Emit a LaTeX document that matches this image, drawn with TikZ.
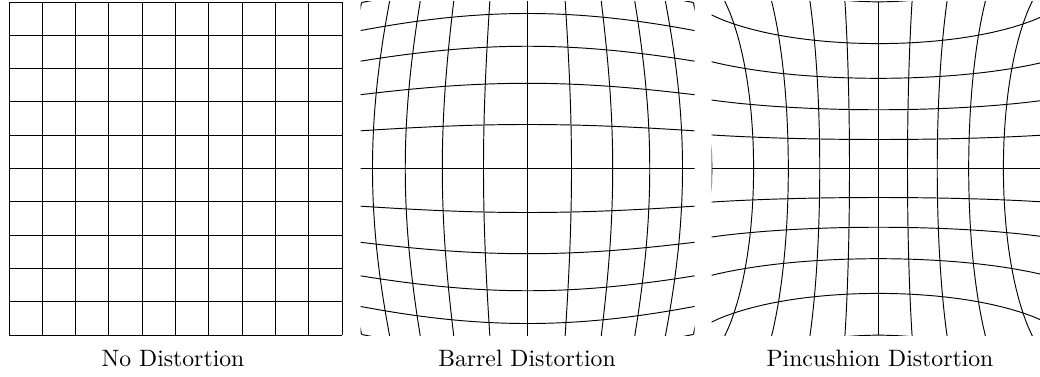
\documentclass[tikz,border=0pt]{standalone}
\usetikzlibrary{positioning}
\tikzset{
  every picture/.style={line width=0.4pt},
  gridline/.style={draw=black, line width=0.4pt},
  caption/.style={anchor=base, font=\normalsize},
  declare function={
    nwt(\r,\p,\a,\b)=\p-((\a)*\p+(\b)*\p*\p*\p-\r)/((\a)+3*(\b)*\p*\p);
    rho(\r,\a,\b)=nwt(\r,nwt(\r,nwt(\r,nwt(\r,nwt(\r,\r/(\a),\a,\b),\a,\b),\a,\b),\a,\b),\a,\b);
    dsc(\u,\v,\a,\b)=rho(sqrt(\u*\u+\v*\v)+0.001,\a,\b)/(sqrt(\u*\u+\v*\v)+0.001);
  },
}

\begin{document}
\begin{tikzpicture}[x=0.422pt, y=0.422pt]
  \useasboundingbox (0,0) rectangle (1040,376);
  \def\R{167}
  \def\cy{207.5}
  \foreach \n in {-5,...,5} {
    \draw[gridline] (175.5+\n*33.3,\cy-166.5) -- (175.5+\n*33.3,\cy+166.5);
    \draw[gridline] (175.5-166.5,\cy+\n*33.3) -- (175.5+166.5,\cy+\n*33.3);
  }
  \foreach \cx/\ka/\kb/\rmax in {527.5/3.75/0.649/7.2, 878.5/5.78/-0.773/5.97} {
    \begin{scope}
      \clip (\cx-\R,\cy-\R) rectangle (\cx+\R,\cy+\R);
      \foreach \n in {-5,...,5} {
        \pgfmathsetmacro\tmax{min(5,sqrt(\rmax*\rmax-\n*\n))}
        \draw[gridline] plot[smooth, domain=-\tmax:\tmax, samples=41, variable=\t]
          ({\cx+\R*\n*dsc(\n,\t,\ka,\kb)}, {\cy+\R*\t*dsc(\n,\t,\ka,\kb)});
        \draw[gridline] plot[smooth, domain=-\tmax:\tmax, samples=41, variable=\t]
          ({\cx+\R*\t*dsc(\t,\n,\ka,\kb)}, {\cy+\R*\n*dsc(\t,\n,\ka,\kb)});
      }
    \end{scope}
  }
  \node[caption] (cap-none) at (173,9.5) {No Distortion};
  \node[caption] (cap-barrel) at (527,9.5) {Barrel Distortion};
  \node[caption] (cap-pin) at (880,9.5) {Pincushion Distortion};
\end{tikzpicture}
\end{document}
